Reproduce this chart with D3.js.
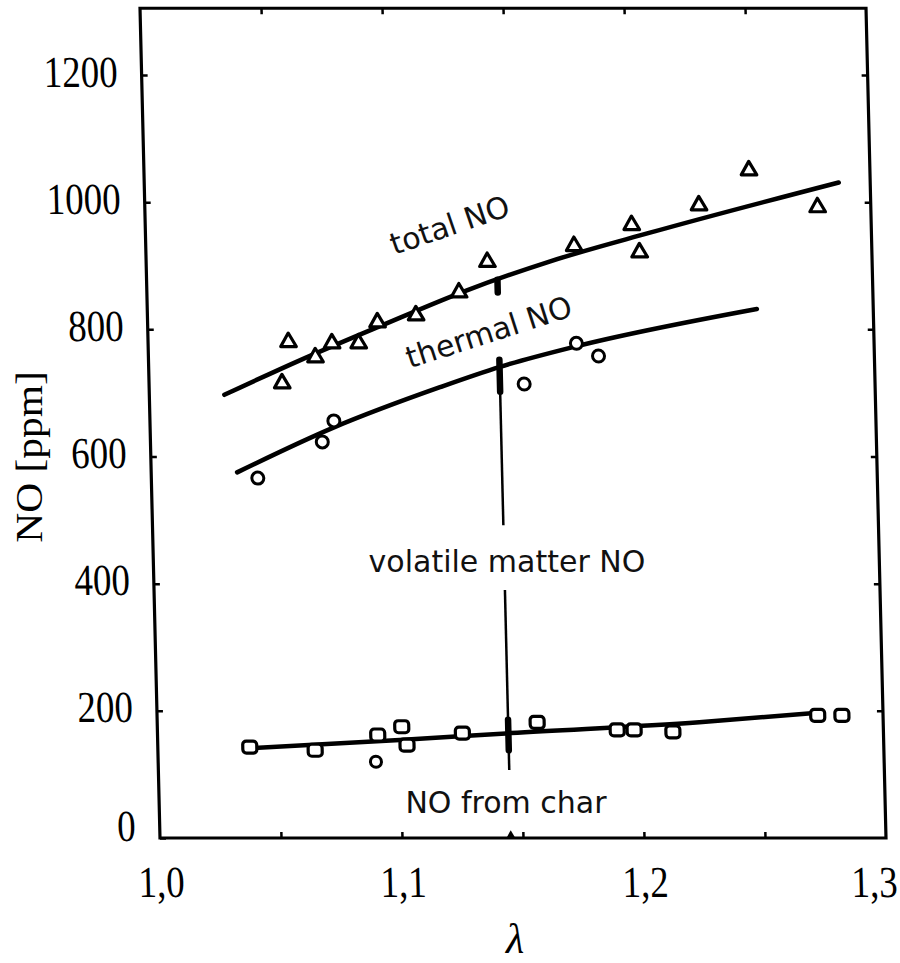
<!DOCTYPE html>
<html><head><meta charset="utf-8">
<script src="https://cdn.jsdelivr.net/npm/d3@7"></script>
<style>body{margin:0;background:#fff}svg{display:block}</style>
</head><body><svg id="c" width="900" height="963"></svg>
<script>
// ---- data ----
const totalLambda = [1.055,1.058,1.069,1.076,1.087,1.095,1.111,1.129,1.141,1.177,1.201,1.204,1.229,1.250,1.278];
const totalNO     = [715,780,756,778,778,811,822,858,906,931,964,921,995,1050,992];
const thermalLambda = [1.044,1.071,1.076,1.155,1.177,1.186];
const thermalNO     = [566,623,656,714,778,758];
const charLambda = [1.038,1.065,1.091,1.101,1.103,1.126,1.157,1.190,1.197,1.213,1.273,1.283];
const charNO     = [143,138,162,175,146,165,182,170,170,167,193,193];
const charOutlierLambda = [1.090];
const charOutlierNO     = [120];
// fitted curves (hand-drawn lines in the picture)
const totalFitLambda = [1.031,1.063,1.096,1.132,1.167,1.2085,1.287];
const totalFitNO     = [697,752,805,861,907,952,1031];
const thermalFitLambda = [1.0355,1.0755,1.1202,1.1452,1.1755,1.2519];
const thermalFitNO     = [575,645,709,741,772,832];
const charFitLambda = [1.038,1.100,1.146,1.224,1.273];
const charFitNO     = [141,154,165,182,197];
// volatile-matter indicator at lambda = 1.145
const vmLambda = 1.145;
const vmSegments = [[752,492],[390,107]];
const vmBlobs = [[878,858],[752,702],[186,138]];
// axes
const yTicks = [0,200,400,600,800,1000,1200];
const xTickMarks = [1.05,1.1,1.15,1.2,1.25];
const xLabels = [1.0,1.1,1.2,1.3];

// ---- drawing ----
const svg = d3.select('#c');
svg.append('rect').attr('width',900).attr('height',963).attr('fill','#fff');
const x = d3.scaleLinear().domain([1.0,1.3]).range([160,886]);
const y = d3.scaleLinear().domain([0,1200]).range([838,75]);
const yTop = 1305;
const serif = '"Liberation Serif","Times New Roman",serif';
const sans = '"DejaVu Sans",Verdana,sans-serif';

const g = svg.append('g').attr('transform','translate(0,838) skewX(1.38) translate(0,-838)');

// frame
g.append('rect').attr('x',x(1.0)).attr('y',y(yTop))
  .attr('width',x(1.3)-x(1.0)).attr('height',y(0)-y(yTop))
  .attr('fill','none').attr('stroke','#000').attr('stroke-width',3.2);

function styleTicks(sel){
  sel.select('.domain').remove();
  sel.selectAll('line').attr('stroke','#000').attr('stroke-width',2.5);
}
// left axis
const axLeft = g.append('g').attr('transform',`translate(${x(1.0)},0)`)
  .call(d3.axisLeft(y).tickValues(yTicks).tickSizeInner(-6).tickSizeOuter(0).tickPadding(24).tickFormat(d=>String(d)));
styleTicks(axLeft);
axLeft.selectAll('text').attr('font-family',serif).attr('font-size',37).attr('fill','#000')
  .attr('dy',d=>d===0?'0.05em':'0.25em').attr('transform','scale(1,1.2)');
// right axis ticks
const axRight = g.append('g').attr('transform',`translate(${x(1.3)},0)`)
  .call(d3.axisRight(y).tickValues(yTicks.slice(1)).tickSizeInner(-6).tickSizeOuter(0).tickFormat(''));
styleTicks(axRight);
// bottom ticks
const axBottom = g.append('g').attr('transform',`translate(0,${y(0)})`)
  .call(d3.axisBottom(x).tickValues(xTickMarks).tickSizeInner(-6).tickSizeOuter(0).tickFormat(''));
styleTicks(axBottom);
// top ticks
const axTop = g.append('g').attr('transform',`translate(0,${y(yTop)})`)
  .call(d3.axisTop(x).tickValues(xTickMarks).tickSizeInner(-6).tickSizeOuter(0).tickFormat(''));
styleTicks(axTop);
// bottom labels
const axLabels = g.append('g').attr('transform',`translate(0,${y(0)})`)
  .call(d3.axisBottom(x).tickValues(xLabels).tickSize(0).tickPadding(23)
    .tickFormat(d=>d3.format('.1f')(d).replace('.',',')));
axLabels.select('.domain').remove();
axLabels.selectAll('text').attr('font-family',serif).attr('font-size',37).attr('fill','#000')
  .attr('dx',(d,i,n)=>i===n.length-1?-13:0).attr('transform','scale(1,1.2)');

// fitted curves
const line = d3.line().x(d=>x(d[0])).y(d=>y(d[1])).curve(d3.curveMonotoneX);
[[totalFitLambda,totalFitNO],[thermalFitLambda,thermalFitNO],[charFitLambda,charFitNO]].forEach(([a,b])=>{
  g.append('path').datum(d3.zip(a,b)).attr('d',line)
    .attr('fill','none').attr('stroke','#000').attr('stroke-width',4.5).attr('stroke-linecap','round');
});

// volatile matter indicator
g.selectAll('line.vm').data(vmSegments).join('line').attr('class','vm')
  .attr('x1',x(vmLambda)).attr('x2',x(vmLambda)).attr('y1',d=>y(d[0])).attr('y2',d=>y(d[1]))
  .attr('stroke','#000').attr('stroke-width',2.5);
g.selectAll('line.vmb').data(vmBlobs).join('line').attr('class','vmb')
  .attr('x1',x(vmLambda)).attr('x2',x(vmLambda)).attr('y1',d=>y(d[0])).attr('y2',d=>y(d[1]))
  .attr('stroke','#000').attr('stroke-width',6.5).attr('stroke-linecap','round');
g.append('path').attr('transform',`translate(${x(vmLambda)},${y(0)-3})`)
  .attr('d',d3.symbol(d3.symbolTriangle,30)).attr('fill','#000');

// markers
g.selectAll('path.tri').data(d3.zip(totalLambda,totalNO)).join('path').attr('class','tri')
  .attr('transform',d=>`translate(${x(d[0])},${y(d[1])})`)
  .attr('d',d3.symbol(d3.symbolTriangle,105))
  .attr('fill','#fff').attr('stroke','#000').attr('stroke-width',3.2).attr('stroke-linejoin','round');
g.selectAll('circle.th').data(d3.zip(thermalLambda,thermalNO)).join('circle').attr('class','th')
  .attr('cx',d=>x(d[0])).attr('cy',d=>y(d[1])).attr('r',6)
  .attr('fill','#fff').attr('stroke','#000').attr('stroke-width',3);
g.selectAll('circle.co').data(d3.zip(charOutlierLambda,charOutlierNO)).join('circle').attr('class','co')
  .attr('cx',d=>x(d[0])).attr('cy',d=>y(d[1])).attr('r',5.5)
  .attr('fill','#fff').attr('stroke','#000').attr('stroke-width',3);
g.selectAll('rect.sq').data(d3.zip(charLambda,charNO)).join('rect').attr('class','sq')
  .attr('x',d=>x(d[0])-7).attr('y',d=>y(d[1])-6).attr('width',14).attr('height',12).attr('rx',3.5)
  .attr('fill','#fff').attr('stroke','#000').attr('stroke-width',3.2);

// axis titles
svg.append('text').attr('transform','translate(42,457) rotate(-90) scale(1.12,1)')
  .attr('text-anchor','middle').attr('font-family',serif).attr('font-size',37).attr('fill','#000')
  .text('NO [ppm]');
svg.append('text').attr('transform','translate(515,953)')
  .attr('text-anchor','middle').attr('font-family',serif).attr('font-style','italic').attr('font-size',42).attr('fill','#000')
  .text('λ');

// annotations
function ann(txt,tx,ty,rot){
  svg.append('text').attr('transform',`translate(${tx},${ty}) rotate(${rot})`)
    .attr('text-anchor','middle').attr('font-family',sans).attr('font-size',30).attr('fill','#111').text(txt);
}
ann('total NO',453,235,-18.9);
ann('thermal NO',492,342,-17.8);
ann('volatile matter NO',507,572,0);
ann('NO from char',506,813,0);
</script></body></html>
